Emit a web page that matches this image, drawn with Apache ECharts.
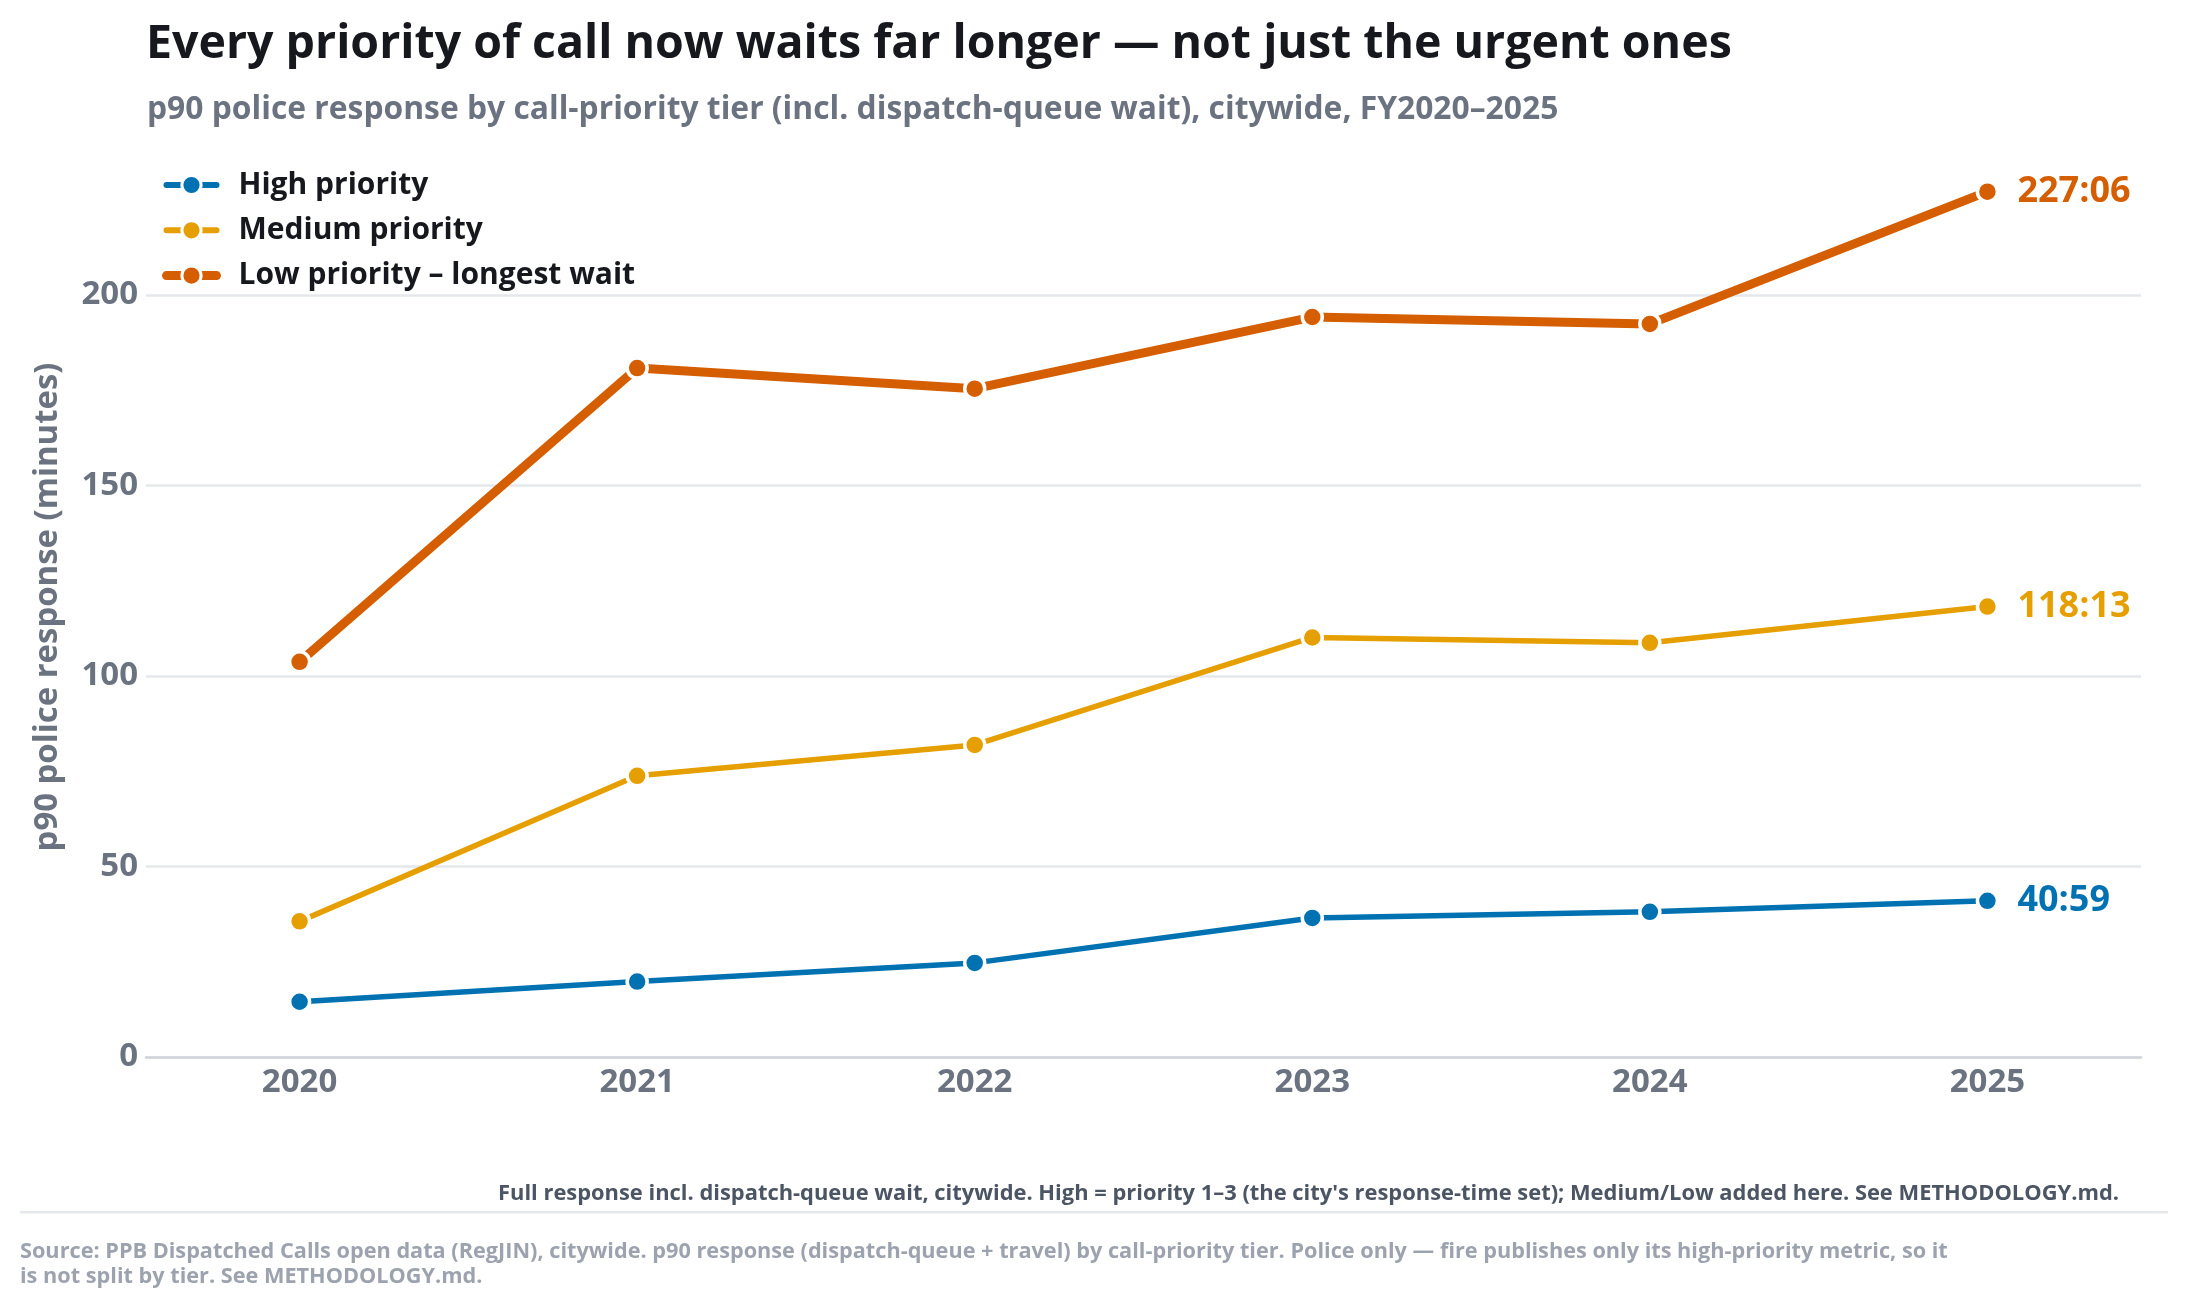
<!DOCTYPE html>
<html>
<head>
<meta charset="utf-8">
<script src="https://cdn.jsdelivr.net/npm/echarts@6/dist/echarts.min.js"></script>
<style>
html,body{margin:0;padding:0;background:#fff;}
#chart{width:2187px;height:1306px;}
</style>
</head>
<body>
<div id="chart"></div>
<script>
const years = [2020, 2021, 2022, 2023, 2024, 2025];
const highPriority = [14.5, 19.8, 24.7, 36.5, 38.1, 40.98];
const mediumPriority = [35.6, 73.8, 81.9, 110.1, 108.7, 118.22];
const lowPriority = [103.7, 180.8, 175.4, 194.2, 192.4, 227.1];
const yTicks = [0, 50, 100, 150, 200];
const seriesNames = ['High priority', 'Medium priority', 'Low priority \u2013 longest wait'];

const FONT = '"Open Sans"';
const COLORS = ['#0072B2', '#E69F00', '#D55E00'];
const WIDTHS = [5.5, 5.5, 9];

function mmss(v) {
  let m = Math.floor(v);
  let s = Math.round((v - m) * 60);
  if (s === 60) { m += 1; s = 0; }
  return m + ':' + (s < 10 ? '0' : '') + s;
}

function pairs(arr) { return years.map((y, i) => [y, arr[i]]); }

function makeSeries(name, data, color, width) {
  return {
    name: name,
    type: 'line',
    data: pairs(data),
    symbol: 'circle',
    symbolSize: 20,
    z: 3,
    lineStyle: { color: color, width: width },
    itemStyle: { color: color, borderColor: '#ffffff', borderWidth: 3.5 },
    emphasis: { disabled: true },
    endLabel: {
      show: true,
      formatter: p => mmss(p.value[1]),
      color: color,
      fontFamily: FONT,
      fontWeight: 'bold',
      fontSize: 36,
      distance: 30
    }
  };
}

const chart = echarts.init(document.getElementById('chart'), null, { renderer: 'canvas' });
chart.setOption({
  backgroundColor: '#ffffff',
  animation: false,
  title: [
    {
      text: 'Every priority of call now waits far longer \u2014 not just the urgent ones',
      left: 146, top: 21, padding: 0,
      textStyle: { fontFamily: FONT, fontWeight: 'bold', fontSize: 46.5, color: '#16181d' }
    },
    {
      text: 'p90 police response by call-priority tier (incl. dispatch-queue wait), citywide, FY2020\u20132025',
      left: 147, top: 94, padding: 0,
      textStyle: { fontFamily: FONT, fontWeight: 'bold', fontSize: 31.8, color: '#6b7280' }
    }
  ],
  legend: {
    orient: 'vertical',
    left: 162, top: 170,
    itemWidth: 50, itemHeight: 24, itemGap: 15.3,
    padding: 0,
    selectedMode: false,
    data: seriesNames.map((n, i) => ({
      name: n,
      lineStyle: { width: i === 2 ? 9 : 6, cap: 'round' },
      itemStyle: { borderColor: '#ffffff', borderWidth: 3 }
    })),
    textStyle: { fontFamily: FONT, fontWeight: 'bold', fontSize: 30, color: '#16181d', lineHeight: 30, padding: [0, 0, 0, 17] }
  },
  grid: { left: 146, right: 46, top: 157, bottom: 249, containLabel: false },
  xAxis: {
    type: 'value',
    min: years[0] - 0.455,
    max: years[years.length - 1] + 0.455,
    axisLine: { show: true, onZero: false, lineStyle: { color: '#d1d5db', width: 2.5 } },
    axisTick: { show: false },
    splitLine: { show: false },
    axisLabel: {
      customValues: years,
      formatter: v => String(v),
      margin: 9,
      fontFamily: FONT, fontWeight: 'bold', fontSize: 33, color: '#6b7280'
    }
  },
  yAxis: {
    type: 'value',
    min: 0,
    max: 236.2,
    interval: 50,
    name: 'p90 police response (minutes)',
    nameLocation: 'middle',
    nameGap: 82,
    nameTextStyle: { fontFamily: FONT, fontWeight: 'bold', fontSize: 32.9, color: '#6b7280' },
    axisLine: { show: false },
    axisTick: { show: false },
    splitLine: { show: true, lineStyle: { color: ['#e5e7eb', '#e5e7eb', '#e5e7eb', '#e5e7eb', '#e5e7eb', 'rgba(0,0,0,0)'], width: 2.5 } },
    axisLabel: {
      showMaxLabel: false,
      formatter: v => (yTicks.indexOf(v) >= 0 ? String(v) : ''),
      margin: 8,
      fontFamily: FONT, fontWeight: 'bold', fontSize: 33, color: '#6b7280'
    }
  },
  series: seriesNames.map((n, i) => makeSeries(n, [highPriority, mediumPriority, lowPriority][i], COLORS[i], WIDTHS[i])),
  graphic: [
    {
      type: 'text', right: 2187 - 2119, top: 1183, z: 10,
      style: {
        text: "Full response incl. dispatch-queue wait, citywide. High = priority 1\u20133 (the city's response-time set); Medium/Low added here. See METHODOLOGY.md.",
        font: 'bold 21.9px "Open Sans"', fill: '#4b5563'
      }
    },
    {
      type: 'rect', left: 20, top: 1211, z: 10,
      shape: { width: 2148, height: 2.5 },
      style: { fill: '#e5e7eb' }
    },
    {
      type: 'text', left: 20, top: 1239, z: 10,
      style: {
        text: 'Source: PPB Dispatched Calls open data (RegJIN), citywide. p90 response (dispatch-queue + travel) by call-priority tier. Police only \u2014 fire publishes only its high-priority metric, so it\nis not split by tier. See METHODOLOGY.md.',
        font: 'bold 21.7px "Open Sans"', fill: '#9ca3af', lineHeight: 25
      }
    }
  ]
});
</script>
</body>
</html>
